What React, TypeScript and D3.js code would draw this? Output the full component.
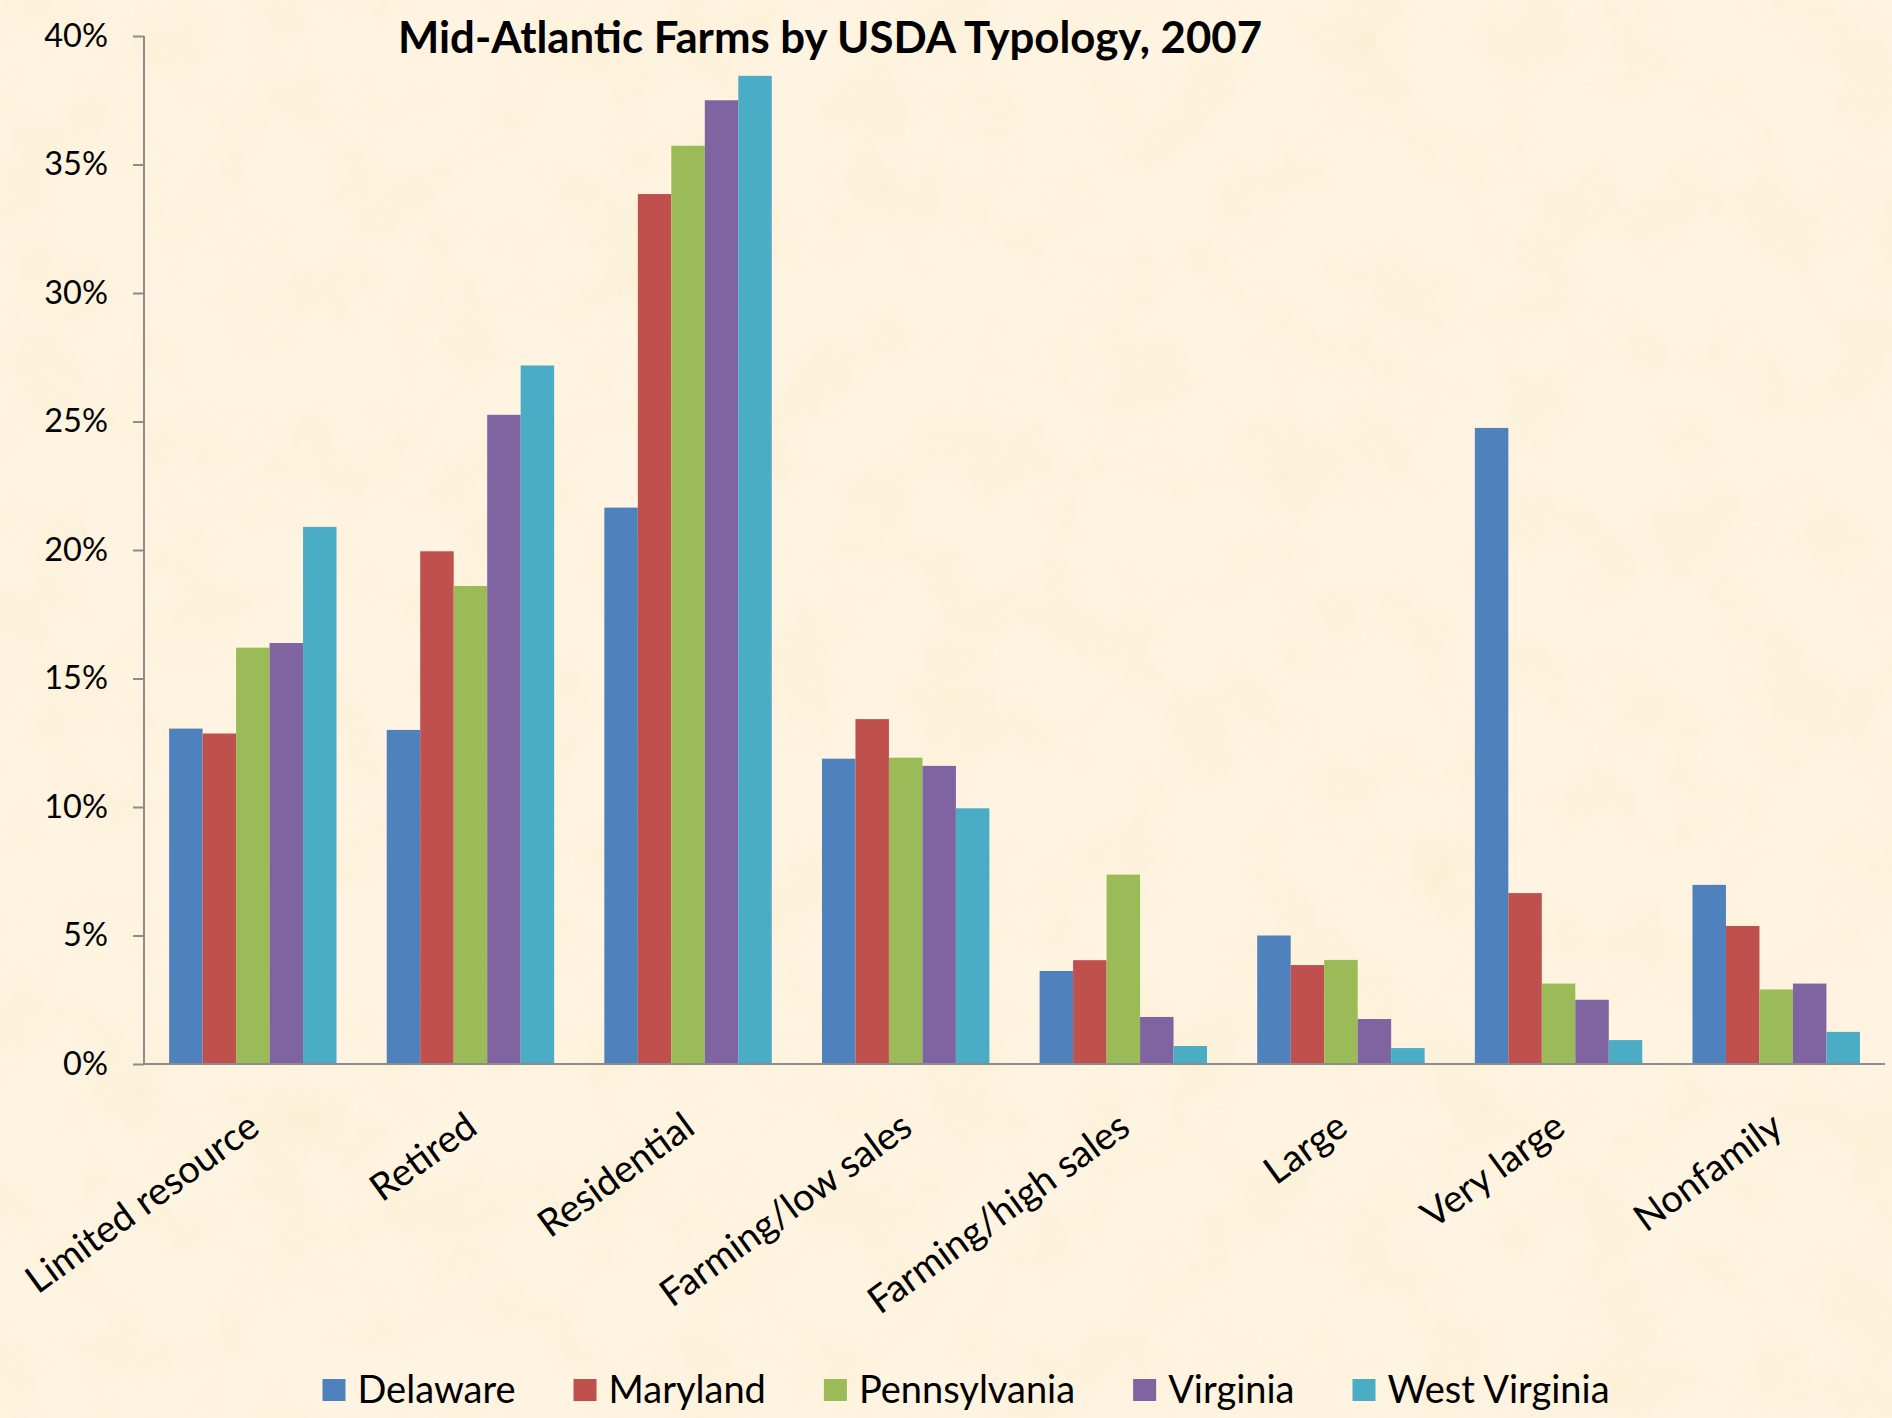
import React, { useEffect, useRef } from 'react';
import * as d3 from 'd3';

const categories = ['Limited resource', 'Retired', 'Residential', 'Farming/low sales', 'Farming/high sales', 'Large', 'Very large', 'Nonfamily'];
const states = ['Delaware', 'Maryland', 'Pennsylvania', 'Virginia', 'West Virginia'];

// percent of farms
const delaware = [13.05, 13.0, 21.65, 11.88, 3.62, 5.0, 24.75, 6.97];
const maryland = [12.86, 19.95, 33.85, 13.42, 4.04, 3.85, 6.65, 5.37];
const pennsylvania = [16.2, 18.6, 35.73, 11.92, 7.37, 4.05, 3.13, 2.9];
const virginia = [16.38, 25.26, 37.5, 11.6, 1.83, 1.75, 2.5, 3.13];
const westVirginia = [20.9, 27.18, 38.45, 9.95, 0.7, 0.62, 0.93, 1.25];

const yTicks = [0, 5, 10, 15, 20, 25, 30, 35, 40];
const colors = ['#4F81BD', '#C0504D', '#9BBB59', '#8064A2', '#4BACC6'];

const W = 1892;
const H = 1418;
const FONT = 'Lato, "Open Sans", sans-serif';

const Chart: React.FC = () => {
    const ref = useRef<SVGSVGElement>(null);

    useEffect(() => {
        if (!ref.current) return;
        const svg = d3.select(ref.current);
        svg.selectAll('*').remove();

        const series = [delaware, maryland, pennsylvania, virginia, westVirginia];
        const rows = categories.map((c, i) => ({ cat: c, values: series.map(s => s[i]) }));

        const margin = { top: 36, right: 7, bottom: 354, left: 144 };

        // parchment background
        const defs = svg.append('defs');
        const f = defs.append('filter').attr('id', 'parch')
            .attr('x', 0).attr('y', 0).attr('width', '100%').attr('height', '100%');
        f.append('feTurbulence')
            .attr('type', 'fractalNoise').attr('baseFrequency', '0.012')
            .attr('numOctaves', 4).attr('seed', 7).attr('result', 'n');
        f.append('feColorMatrix').attr('in', 'n').attr('type', 'matrix')
            .attr('values', '0 0 0 0 0.95  0 0 0 0 0.85  0 0 0 0 0.62  2.2 0 0 0 -0.95');

        svg.append('rect').attr('width', W).attr('height', H).attr('fill', '#FEF4E1');
        svg.append('rect').attr('width', W).attr('height', H)
            .attr('filter', 'url(#parch)').attr('opacity', 0.6);

        const x0 = d3.scaleBand<string>()
            .domain(categories)
            .range([margin.left, W - margin.right])
            .paddingInner(1.5 / 6.5)
            .paddingOuter(0.75 / 6.5);

        const x1 = d3.scaleBand<string>()
            .domain(states)
            .range([0, x0.bandwidth()]);

        const y = d3.scaleLinear()
            .domain([0, 40])
            .range([H - margin.bottom, margin.top]);

        // bars
        svg.append('g')
            .selectAll('g')
            .data(rows)
            .join('g')
            .attr('transform', d => `translate(${x0(d.cat)},0)`)
            .selectAll('rect')
            .data(d => d.values.map((v, k) => ({ state: states[k], v, k })))
            .join('rect')
            .attr('x', d => x1(d.state) as number)
            .attr('y', d => y(d.v))
            .attr('width', x1.bandwidth())
            .attr('height', d => y(0) - y(d.v))
            .attr('fill', d => colors[d.k]);

        // y axis
        const yAxis = svg.append('g')
            .attr('transform', `translate(${margin.left},0)`)
            .call(d3.axisLeft(y).tickValues(yTicks).tickFormat(d => `${d}%`).tickSize(11).tickPadding(25));
        yAxis.select('.domain').attr('stroke', '#8C8C8C').attr('stroke-width', 2)
            .attr('d', `M0,${y(40)}V${y(0)}`);
        yAxis.selectAll('.tick line').attr('stroke', '#8C8C8C').attr('stroke-width', 2);
        yAxis.selectAll('.tick text')
            .attr('fill', '#000').attr('font-family', FONT).attr('font-size', 32.5);

        // x axis line
        svg.append('line')
            .attr('x1', margin.left).attr('x2', W - margin.right)
            .attr('y1', y(0)).attr('y2', y(0))
            .attr('stroke', '#8C8C8C').attr('stroke-width', 2);

        // category labels, rotated
        svg.append('g')
            .selectAll('text')
            .data(categories)
            .join('text')
            .attr('transform', d => `translate(${(x0(d) as number) + x0.bandwidth() / 2 + 9},${y(0) + 68}) rotate(-36)`)
            .attr('text-anchor', 'end')
            .attr('font-family', FONT)
            .attr('font-size', 38)
            .attr('fill', '#000')
            .text(d => d);

        // title
        svg.append('text')
            .attr('x', 830).attr('y', 53)
            .attr('text-anchor', 'middle')
            .attr('font-family', FONT)
            .attr('font-weight', 700)
            .attr('font-size', 43)
            .attr('textLength', 864)
            .attr('lengthAdjust', 'spacingAndGlyphs')
            .attr('fill', '#000')
            .text('Mid-Atlantic Farms by USDA Typology, 2007');

        // legend
        const legend = svg.append('g');
        const items = legend.selectAll('g')
            .data(states)
            .join('g');
        items.append('rect')
            .attr('y', 1379).attr('width', 23).attr('height', 22)
            .attr('fill', (_, i) => colors[i]);
        items.append('text')
            .attr('x', 35).attr('y', 1403)
            .attr('font-family', FONT).attr('font-size', 38)
            .attr('fill', '#000')
            .text(d => d);

        const gap = 58;
        let cursor = 0;
        items.each(function () {
            const g = d3.select(this);
            const tw = (g.select('text').node() as SVGTextElement).getComputedTextLength();
            g.attr('transform', `translate(${cursor},0)`);
            cursor += 35 + tw + gap;
        });
        const total = cursor - gap;
        legend.attr('transform', `translate(${966 - total / 2},0)`);
    }, []);

    return <svg ref={ref} width={W} height={H} style={{ display: 'block' }} />;
};

export default function App() {
    return (
        <div style={{ position: 'absolute', left: 0, top: 0 }}>
            <Chart />
        </div>
    );
}
